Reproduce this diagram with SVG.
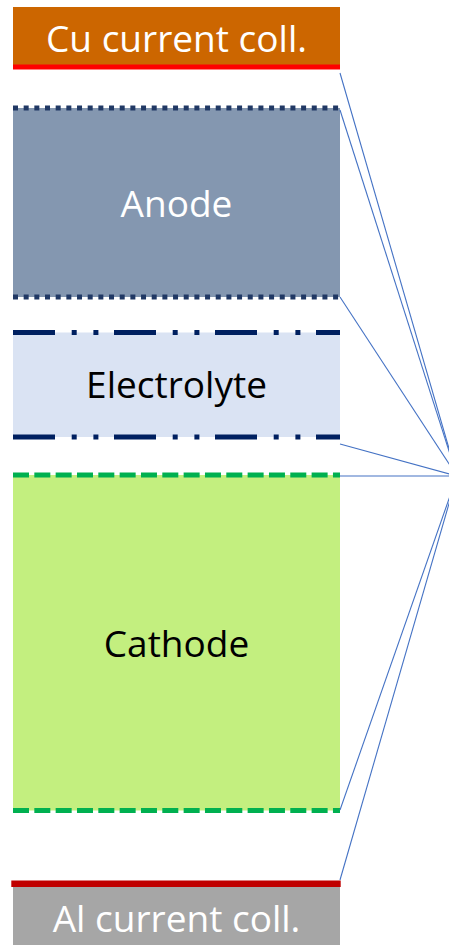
<svg xmlns="http://www.w3.org/2000/svg" width="449" height="945" viewBox="0 0 449 945">
<style>
.lbl{font-family:"Open Sans","Noto Sans",sans-serif;font-size:37px;text-anchor:middle}
.w{fill:#FFFFFF}
.k{fill:#000000}
.conn{stroke:#4472C4;stroke-width:1.1;fill:none}
.dot{stroke:#203864;stroke-width:5;stroke-dasharray:5 5.67;fill:none}
.dashdot{stroke:#002060;stroke-width:5;stroke-dasharray:42 16.7 5 16.7 5 15.6;fill:none}
.dash{stroke:#00B050;stroke-width:5;stroke-dasharray:16 5.33;fill:none}
</style>
<rect width="449" height="945" fill="#FFFFFF"/>
<g id="cu">
<rect x="13" y="7" width="327" height="60" fill="#CC6600"/>
<line x1="13" y1="67" x2="340" y2="67" stroke="#FF0000" stroke-width="5"/>
<text class="lbl w" x="176.5" y="52">Cu current coll.</text>
</g>
<g id="anode">
<rect x="13" y="108" width="327" height="189" fill="#8497B0"/>
<line class="dot" x1="13" y1="108" x2="340" y2="108"/>
<line class="dot" x1="13" y1="297" x2="340" y2="297"/>
<text class="lbl w" x="176.5" y="216.5">Anode</text>
</g>
<g id="electrolyte">
<rect x="13" y="332.5" width="327" height="104.5" fill="#DAE3F3"/>
<line class="dashdot" x1="13" y1="332.5" x2="340" y2="332.5"/>
<line class="dashdot" x1="13" y1="437" x2="340" y2="437"/>
<text class="lbl k" x="176.5" y="398">Electrolyte</text>
</g>
<g id="cathode">
<rect x="13" y="475" width="327" height="335.5" fill="#C3EF7F"/>
<line class="dash" x1="13" y1="475" x2="340" y2="475"/>
<line class="dash" x1="13" y1="810.5" x2="340" y2="810.5"/>
<text class="lbl k" x="176.5" y="656.5">Cathode</text>
</g>
<g id="al">
<rect x="13" y="884" width="327" height="61" fill="#A6A6A6"/>
<rect x="11.3" y="880.5" width="329.4" height="6.5" fill="#C00000"/>
<text class="lbl w" x="176.5" y="931.5">Al current coll.</text>
</g>
<g id="connectors">
<line class="conn" x1="340" y1="73" x2="457" y2="476"/>
<line class="conn" x1="340" y1="110" x2="457" y2="476"/>
<line class="conn" x1="340" y1="297" x2="457" y2="476"/>
<line class="conn" x1="340" y1="444" x2="457" y2="476"/>
<line class="conn" x1="340" y1="476" x2="457" y2="476"/>
<line class="conn" x1="340" y1="810" x2="457" y2="476"/>
<line class="conn" x1="340" y1="880" x2="457" y2="476"/>
</g>
</svg>
